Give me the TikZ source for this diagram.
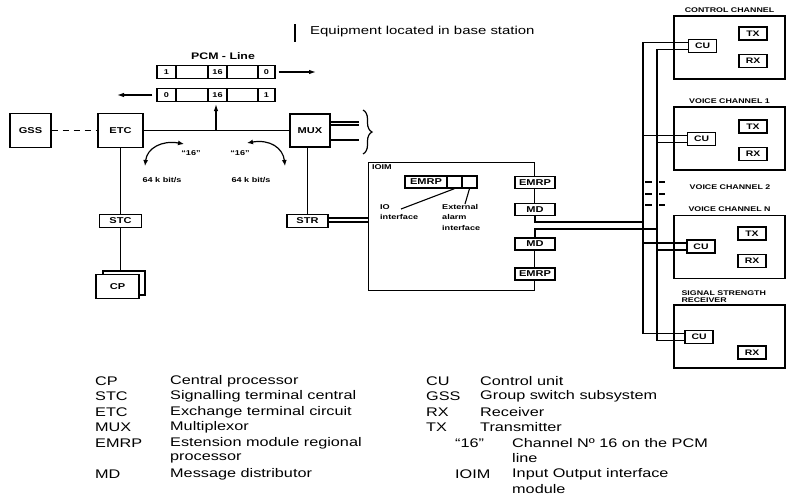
\documentclass[tikz,border=0pt]{standalone}
\usepackage{fontspec}
\setmainfont{Liberation Sans}[FakeStretch=1.3]
\usetikzlibrary{arrows.meta,positioning,decorations.pathreplacing}

\begin{document}
\begin{tikzpicture}[x=1pt, y=-1pt,
    blk/.style={draw, line width=1.3pt, fill=white, inner sep=0pt,
                font=\fontsize{8.5}{9}\selectfont\bfseries},
    smallblk/.style={blk, minimum width=42pt, minimum height=13pt},
    unitblk/.style={blk, minimum width=28pt, minimum height=13pt,
                    font=\fontsize{8}{9}\selectfont\bfseries},
    chan/.style={draw, line width=1.3pt, minimum width=111pt,
                 minimum height=63pt, inner sep=0pt},
    chanlbl/.style={font=\fontsize{6.8}{7}\selectfont\bfseries, inner sep=0pt},
    cell/.style={draw, line width=1.1pt, inner sep=0pt, minimum height=13pt,
                 font=\fontsize{7}{8}\selectfont\bfseries},
    note/.style={font=\fontsize{7}{10.5}\selectfont\bfseries, inner sep=0pt,
                 align=left},
    wire/.style={line width=1.1pt},
    arr/.style={-{Latex[length=7pt,width=4.5pt]}, line width=1.2pt},
    dblarr/.style={{Latex[length=6pt,width=5pt]}-{Latex[length=6pt,width=5pt]},
                   line width=1.2pt},
    legab/.style={anchor=west, inner sep=0pt, font=\fontsize{12.5}{13}\selectfont},
    legtx/.style={legab}
  ]
  \path[use as bounding box, fill=white] (0,0) rectangle (789,501);

  % base station note
  \coordinate (barTop) at (295,24);
  \coordinate (barBot) at (295,42);
  \draw[line width=1.3pt] (barTop) -- (barBot);
  \node[anchor=west, inner sep=0pt, font=\fontsize{11.5}{12}\selectfont]
    (stationNote) at (310,32) {Equipment located in base station};

  % PCM line frames
  \node[font=\fontsize{9.5}{10}\selectfont\bfseries] (pcmLbl) at (223,56) {PCM - Line};
  \node[cell, minimum width=118pt] (pcmA) at (216,72) {};
  \node[cell, minimum width=19pt] (pcmA1) at (166.5,72) {1};
  \node[cell, minimum width=19pt] (pcmA16) at (217.5,72) {16};
  \node[cell, minimum width=17pt] (pcmA0) at (266.5,72) {0};
  \node[cell, minimum width=118pt] (pcmB) at (216,95) {};
  \node[cell, minimum width=19pt] (pcmB0) at (166.5,95) {0};
  \node[cell, minimum width=19pt] (pcmB16) at (217.5,95) {16};
  \node[cell, minimum width=17pt] (pcmB1) at (266.5,95) {1};
  \coordinate (pcmOut) at (316,72);
  \coordinate (pcmIn) at (117,95);
  \draw[arr] ([xshift=3pt]pcmA.east) -- (pcmOut);
  \draw[arr] ([xshift=-4pt]pcmB.west) -- (pcmIn);

  % exchange side
  \node[blk, minimum width=41pt, minimum height=34pt] (gss) at (30.5,130.5) {GSS};
  \node[blk, minimum width=45pt, minimum height=34pt] (etc) at (120.5,130.5) {ETC};
  \node[blk, minimum width=40pt, minimum height=33pt] (mux) at (310,130.5) {MUX};
  \draw[wire, dash pattern=on 6pt off 5pt] (gss) -- (etc);
  \draw[wire] (etc) -- (mux);
  \coordinate (tap) at (216,130.5);
  \draw[arr] (tap) -- ([yshift=-2pt]pcmB.south);
  \draw[wire] ([yshift=8.5pt]mux.east) -- ++(28,0);
  \draw[wire] ([yshift=5.5pt]mux.east) -- ++(28,0);
  \draw[wire] ([yshift=-9.5pt]mux.east) -- ++(28,0);
  \coordinate (braceTop) at (363,110);
  \coordinate (braceBot) at (363,154);
  \draw[line width=1.2pt, decorate, decoration={brace, amplitude=9pt}]
    (braceTop) -- (braceBot);

  % channel 16 arrows
  \coordinate (lcA) at (184,144);
  \coordinate (lcB) at (145,166);
  \coordinate (rcA) at (247,143);
  \coordinate (rcB) at (285,166);
  \draw[dblarr] (lcA) .. controls (162,140) and (147,148) .. (lcB);
  \draw[dblarr] (rcA) .. controls (270,139) and (283,148) .. (rcB);
  \node[note] (chA) at (191,153) {“16”};
  \node[note] (chB) at (240,153) {“16”};
  \node[note] (rateA) at (162,180) {64 k bit/s};
  \node[note] (rateB) at (251,180) {64 k bit/s};

  % signalling terminals
  \node[smallblk] (stc) at (120.5,221) {STC};
  \node[blk, minimum width=42pt, minimum height=24pt] (cpBack) at (124,283) {};
  \node[blk, minimum width=43pt, minimum height=24pt] (cp) at (117.5,286.5) {CP};
  \draw[wire] (etc) -- (stc);
  \draw[wire] (stc.south) -- (stc.south |- cpBack.north);
  \node[smallblk, minimum width=41pt] (str) at (307.5,221) {STR};
  \draw[wire] (str.north) -- (str.north |- mux.south);

  % IOIM
  \node[inner sep=0pt, minimum width=165pt, minimum height=127pt] (ioim) at (451.5,226.5) {};
  \draw[line width=1.3pt] ([yshift=4.5pt]ioim.east) -- (ioim.north east)
    -- (ioim.north west) -- (ioim.south west) -- (ioim.south east)
    -- ([yshift=-2.5pt]ioim.east);
  \node[note, anchor=north west] (ioimLbl) at ([xshift=3pt,yshift=-2pt]ioim.north west) {IOIM};
  \draw[wire] ([yshift=3pt]str.east) -- ([yshift=3pt]str.east -| ioim.west);
  \draw[wire] ([yshift=-1pt]str.east) -- ([yshift=-1pt]str.east -| ioim.west);
  \node[blk, minimum width=42pt, minimum height=12pt] (emrpI) at (426,182) {EMRP};
  \node[blk, minimum width=15pt, minimum height=12pt] (cellA) at (454.5,182) {};
  \node[blk, minimum width=15pt, minimum height=12pt] (cellB) at (469.5,182) {};
  \node[note, anchor=north west] (ioTxt) at (380,204) {IO\\interface};
  \node[note, anchor=north west] (extTxt) at (442,204) {External\\alarm\\interface};
  \coordinate (ioTip) at (401,209);
  \coordinate (extTip) at (465,204);
  \draw[wire] (cellA.south) -- (ioTip);
  \draw[wire] (cellB.south) -- (extTip);
  \node[smallblk, minimum width=40pt, minimum height=12pt] (emrpA) at (535,182.5) {EMRP};
  \node[smallblk, minimum width=40pt, minimum height=12pt] (mdA) at (535,209.5) {MD};
  \node[smallblk, minimum width=40pt, minimum height=12pt] (mdB) at (535,244) {MD};
  \node[smallblk, minimum width=40pt, minimum height=12pt] (emrpB) at (535,274) {EMRP};

  % radio channels
  \node[chan] (chCtl) at (729.5,47.5) {};
  \node[chanlbl, above=3pt of chCtl] (lblCtl) {CONTROL CHANNEL};
  \node[unitblk] (txCtl) at (753,33.5) {TX};
  \node[unitblk] (rxCtl) at (753,61) {RX};
  \node[unitblk] (cuCtl) at (702.5,46) {CU};

  \node[chan] (chV1) at (729.5,138.5) {};
  \node[chanlbl, above=3pt of chV1] (lblV1) {VOICE CHANNEL 1};
  \node[unitblk] (txV1) at (753,126.5) {TX};
  \node[unitblk] (rxV1) at (753,154) {RX};
  \node[unitblk] (cuV1) at (701.5,139) {CU};

  \node[chanlbl] (lblV2) at (730,187) {VOICE CHANNEL 2};

  \node[chan] (chVN) at (729.5,247) {};
  \node[chanlbl, above=3pt of chVN] (lblVN) {VOICE CHANNEL N};
  \node[unitblk] (txVN) at (752,233.5) {TX};
  \node[unitblk] (rxVN) at (752,261) {RX};
  \node[unitblk] (cuVN) at (701,246.5) {CU};

  \node[chan] (chSS) at (729.5,336.5) {};
  \node[chanlbl, align=left, anchor=south west] (lblSS)
    at ([xshift=8pt,yshift=2pt]chSS.north west) {SIGNAL STRENGTH\\RECEIVER};
  \node[unitblk] (cuSS) at (699,337) {CU};
  \node[unitblk] (rxSS) at (752,352.5) {RX};

  % buses
  \coordinate (busO) at (643,200);
  \coordinate (busI) at (657,200);
  \coordinate (joinA) at (643,222);
  \coordinate (joinB) at (657,229);
  \draw[wire] ([yshift=3.5pt]cuCtl.west) -| (busO) |- ([yshift=3.5pt]cuSS.west);
  \draw[wire] ([yshift=-3.5pt]cuCtl.west) -| (busI) |- ([yshift=-3.5pt]cuSS.west);
  \draw[wire] ([yshift=3.5pt]cuV1.west) -- ([yshift=3.5pt]cuV1.west -| busO);
  \draw[wire] ([yshift=-3.5pt]cuV1.west) -- ([yshift=-3.5pt]cuV1.west -| busI);
  \draw[wire] ([yshift=3.5pt]cuVN.west) -- ([yshift=3.5pt]cuVN.west -| busO);
  \draw[wire] ([yshift=-3.5pt]cuVN.west) -- ([yshift=-3.5pt]cuVN.west -| busI);
  \draw[wire] (mdA.south) |- (joinA);
  \draw[wire] (mdB.north) |- (joinB);
  \foreach \yy in {182,194,205} {
    \draw[wire] (645,\yy) -- ++(7,0);
    \draw[wire] (659,\yy) -- ++(6,0);
  }

  % legend
  \foreach \ab/\txt/\yy [count=\i] in {CP/Central processor/381,
      STC/Signalling terminal central/396.5, ETC/Exchange terminal circuit/412,
      MUX/Multiplexor/427.5, EMRP/Estension module regional/443,
      /processor/458.5, MD/Message distributor/474} {
    \node[legab] (abL\i) at (95,\yy) {\ab};
    \node[legtx] (txL\i) at (170,\yy) {\txt};
  }
  \foreach \ab/\txt/\yy [count=\i] in {CU/Control unit/381,
      GSS/Group switch subsystem/396.5, RX/Receiver/412, TX/Transmitter/427.5} {
    \node[legab] (abR\i) at (426,\yy) {\ab};
    \node[legtx] (txR\i) at (480,\yy) {\txt};
  }
  \foreach \ab/\txt/\yy [count=\i] in {“16”/Channel Nº 16 on the PCM/443,
      /line/458.5, IOIM/Input Output interface/474, /module/489.5} {
    \node[legab] (abS\i) at (455,\yy) {\ab};
    \node[legtx] (txS\i) at (512,\yy) {\txt};
  }
\end{tikzpicture}
\end{document}
